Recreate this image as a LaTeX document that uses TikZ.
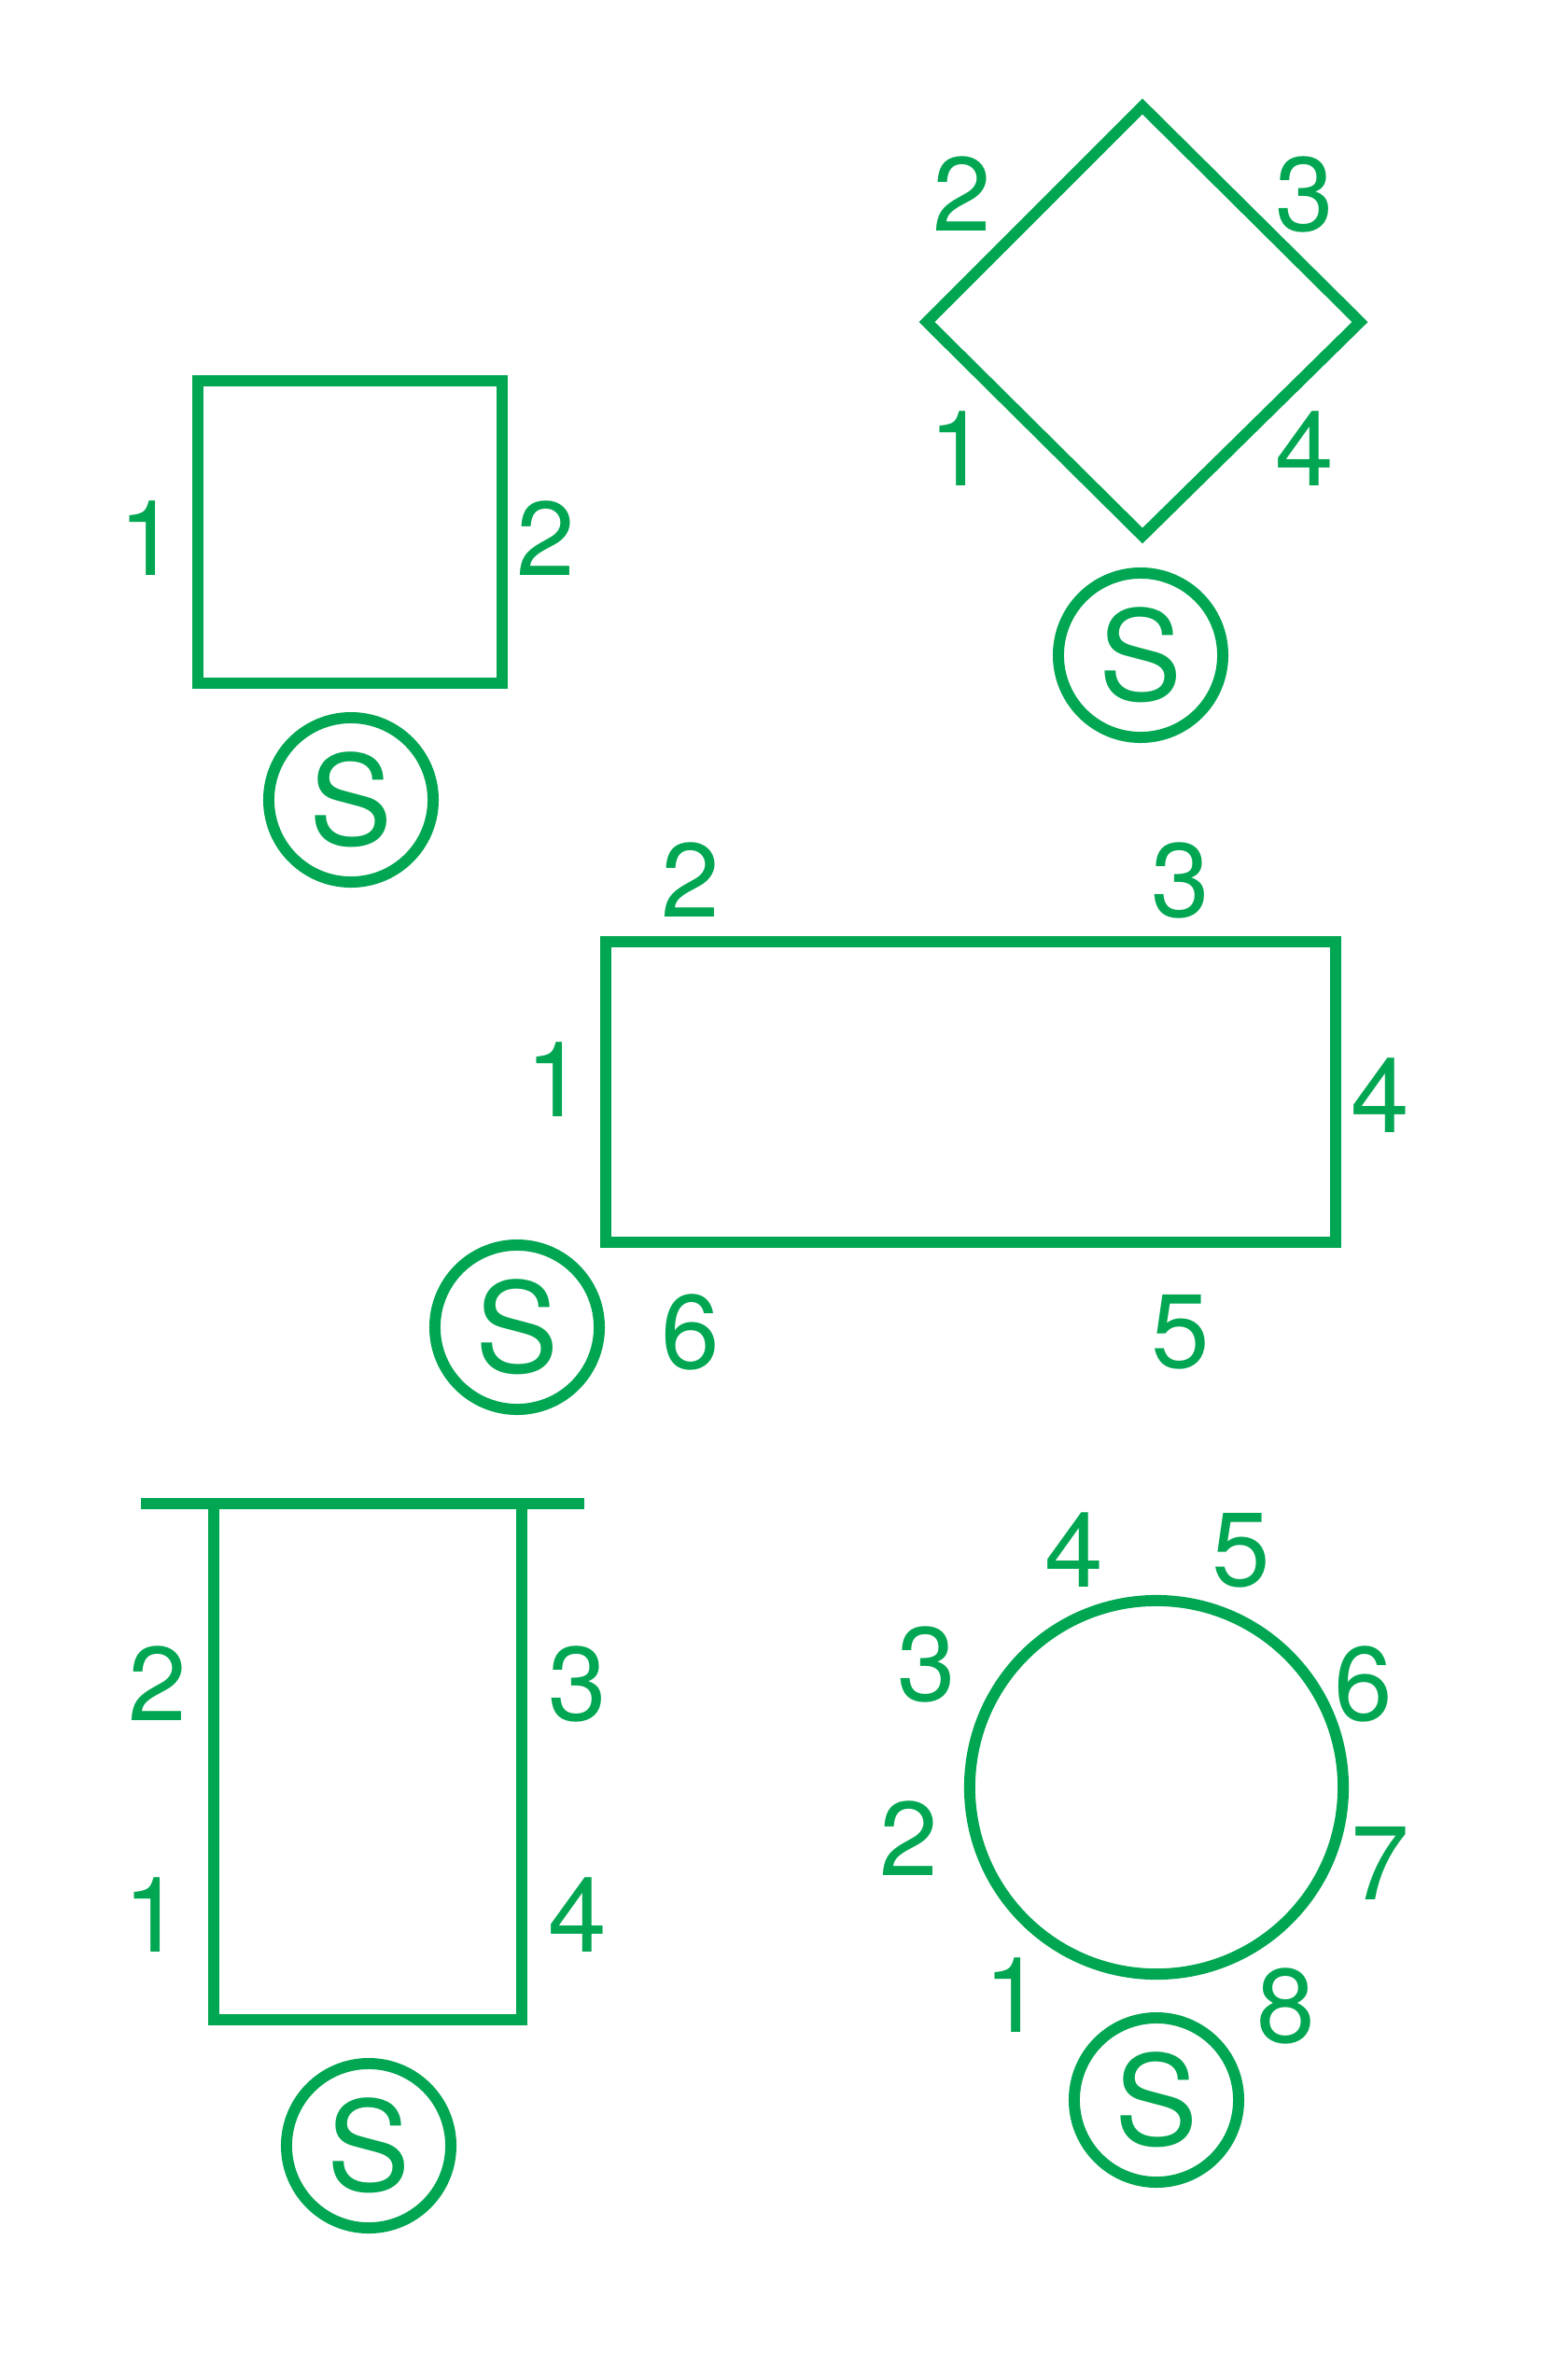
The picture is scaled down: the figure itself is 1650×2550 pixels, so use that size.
\documentclass[tikz,border=0pt]{standalone}
\usepackage{fontspec}
\setmainfont{TeX Gyre Heros}
\definecolor{markgreen}{RGB}{0,166,81}
\tikzset{
  outline/.style={draw=markgreen, line width=3.4pt, inner sep=0pt},
  num/.style={inner sep=0pt, text=markgreen, font=\fontsize{32}{32}\selectfont},
  sbadge/.style={draw=markgreen, circle, line width=3.4pt, inner sep=0pt,
    minimum size=1.76cm, text=markgreen, font=\fontsize{38}{38}\selectfont}
}
\begin{document}
\begin{tikzpicture}[x=0.01cm, y=-0.01cm]
    \useasboundingbox (0,0) rectangle (1650,2550);

    % square
    \node (sq) [outline, rectangle, minimum width=3.25cm, minimum height=3.24cm] at (375,570) {};
    \node (sqa) [num] at (159,577) {1};
    \node (sqb) [num] at (585,577) {2};
    \node (sqs) [sbadge] at (376,857) {S};

    % diamond
    \coordinate (dt) at (1224,114);
    \coordinate (dr) at (1457,345);
    \coordinate (db) at (1224,574);
    \coordinate (dl) at (993,345);
    \draw[draw=markgreen, line width=3.4pt] (dt) -- (dr) -- (db) -- (dl) -- cycle;
    \node (dia) [num] at (1027,481) {1};
    \node (dib) [num] at (1031,208) {2};
    \node (dic) [num] at (1398,208) {3};
    \node (did) [num] at (1398,481) {4};
    \node (dis) [sbadge] at (1222,702) {S};

    % long rectangle
    \node (rc) [outline, rectangle, minimum width=7.82cm, minimum height=3.22cm] at (1040,1170) {};
    \node (rca) [num] at (595,1157) {1};
    \node (rcb) [num] at (740,943) {2};
    \node (rcc) [num] at (1265,943) {3};
    \node (rcd) [num] at (1479,1174) {4};
    \node (rce) [num] at (1265,1427) {5};
    \node (rcf) [num] at (740,1427) {6};
    \node (rcs) [sbadge] at (554,1422) {S};

    % open box under a bar
    \coordinate (bl) at (151,1611);
    \coordinate (br) at (626,1611);
    \coordinate (ul) at (229,1611);
    \coordinate (ur) at (559,1611);
    \draw[draw=markgreen, line width=3.4pt] (bl) -- (br);
    \draw[draw=markgreen, line width=3.4pt] (ul) -- (229,2164) -- (559,2164) -- (ur);
    \node (oba) [num] at (164,2052) {1};
    \node (obb) [num] at (169,1804) {2};
    \node (obc) [num] at (619,1804) {3};
    \node (obd) [num] at (619,2052) {4};
    \node (obs) [sbadge] at (395,2299) {S};

    % ring
    \node (ring) [outline, circle, minimum size=4cm] at (1239,1915) {};
    \node (rga) [num] at (1086,2138) {1};
    \node (rgb) [num] at (974,1970) {2};
    \node (rgc) [num] at (993,1783) {3};
    \node (rgd) [num] at (1151,1661) {4};
    \node (rge) [num] at (1330,1661) {5};
    \node (rgf) [num] at (1461,1804) {6};
    \node (rgg) [num] at (1479,1996) {7};
    \node (rgh) [num] at (1378,2149) {8};
    \node (rgs) [sbadge] at (1239,2250) {S};
\end{tikzpicture}
\end{document}
